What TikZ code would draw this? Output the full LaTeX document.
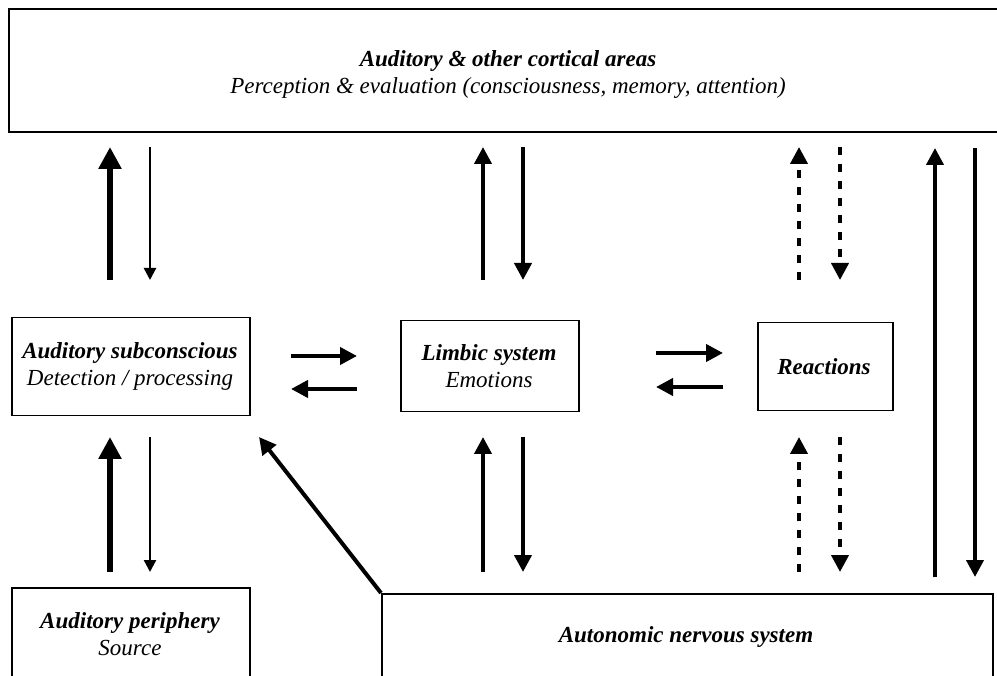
\documentclass[tikz,border=0pt]{standalone}
\usepackage{fontspec}
\setmainfont{Liberation Serif}
\usetikzlibrary{arrows.meta}

\begin{document}
\begin{tikzpicture}[x=1pt,y=-1pt,
  box/.style={draw, line width=1.5pt, inner sep=0pt, anchor=north west},
  txt/.style={align=center, font=\fontsize{23}{27}\selectfont\itshape},
  heavy/.style={line width=6pt, -{Triangle[length=22pt,width=22pt]}},
  light/.style={line width=2.4pt, -{Triangle[length=12pt,width=12pt]}},
  mid/.style={line width=4pt, -{Triangle[length=17pt,width=17pt]}},
  dashline/.style={line width=4pt, dash pattern=on 8pt off 9pt, -{Triangle[length=17pt,width=17pt]}},
]
\useasboundingbox (0,0) rectangle (997,676);
\clip (0,0) rectangle (997,676);

% boxes
\node[box, line width=2pt, minimum width=1010pt, minimum height=123pt] (cortex) at (8,8) {};
\node[box, minimum width=238pt, minimum height=98pt] (sub) at (11,317) {};
\node[box, minimum width=178pt, minimum height=91pt] (limbic) at (400,320) {};
\node[box, minimum width=135pt, minimum height=88pt] (react) at (757,322) {};
\node[box, minimum width=238pt, minimum height=120pt] (periph) at (11,587) {};
\node[box, minimum width=611pt, minimum height=120pt] (ans) at (381,593) {};

% labels
\node[txt] (cortexlbl) at (508,75) {\textbf{Auditory \& other cortical areas}\\Perception \& evaluation (consciousness, memory, attention)};
\node[txt] (sublbl) at (130,366) {\textbf{Auditory subconscious}\\Detection / processing};
\node[txt] (limbiclbl) at (489,366) {\textbf{Limbic system}\\Emotions};
\node[txt] (reactlbl) at (824,367) {\textbf{Reactions}};
\node[txt] (periphlbl) at (130,634) {\textbf{Auditory periphery}\\Source};
\node[txt] (anslbl) at (686,637) {\textbf{Autonomic nervous system}};

% arrow end points
\foreach \n/\x in {a/110, b/150, c/483, d/523, e/799, f/840} {
  \coordinate (\n1) at (\x,147);
  \coordinate (\n2) at (\x,280);
  \coordinate (\n3) at (\x,437);
  \coordinate (\n4) at (\x,572);
}
\coordinate (g1) at (935,148);
\coordinate (g2) at (935,577);
\coordinate (h1) at (975,148);
\coordinate (h2) at (975,577);
\coordinate (r1) at (291,356);
\coordinate (r2) at (357,356);
\coordinate (l1) at (357,389);
\coordinate (l2) at (291,389);
\coordinate (s1) at (656,353);
\coordinate (s2) at (723,353);
\coordinate (t1) at (723,387);
\coordinate (t2) at (656,387);
\coordinate (diag) at (259,437);

% auditory column
\draw[heavy] (a2) -- (a1);
\draw[light] (b1) -- (b2);
\draw[heavy] (a4) -- (a3);
\draw[light] (b3) -- (b4);

% limbic column
\draw[mid] (c2) -- (c1);
\draw[mid] (d1) -- (d2);
\draw[mid] (c4) -- (c3);
\draw[mid] (d3) -- (d4);

% reactions column
\draw[dashline] (e2) -- (e1);
\draw[dashline] (f1) -- (f2);
\draw[dashline] (e4) -- (e3);
\draw[dashline] (f3) -- (f4);

% direct cortex <-> autonomic links
\draw[mid] (g2) -- (g1);
\draw[mid] (h1) -- (h2);

% horizontal exchanges
\draw[mid] (r1) -- (r2);
\draw[mid] (l1) -- (l2);
\draw[mid] (s1) -- (s2);
\draw[mid] (t1) -- (t2);

% autonomic -> subconscious
\draw[mid] (ans.north west) -- (diag);
\end{tikzpicture}
\end{document}
